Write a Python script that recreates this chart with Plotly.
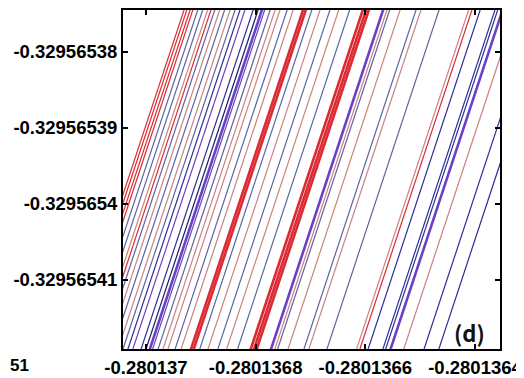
import plotly.graph_objects as go

# y levels at which each line's x position is given
y_hi = -0.32956537
y_lo = -0.32956542

# x of each line at y_hi
x_hi = [
    -0.280136910, -0.280136905, -0.280136899, -0.280136894, -0.280136885,
    -0.280136876, -0.280136867, -0.280136861, -0.280136854, -0.280136845,
    -0.280136836, -0.280136826, -0.280136817, -0.280136808, -0.280136799,
    -0.280136784, -0.280136775, -0.280136768, -0.280136763, -0.280136753,
    -0.280136744, -0.280136735, -0.280136722, -0.280136711, -0.280136693,
    -0.280136688, -0.280136677, -0.280136662, -0.280136644, -0.280136628,
    -0.280136608, -0.280136584, -0.280136578, -0.280136573, -0.280136547,
    -0.280136540, -0.280136535, -0.280136516, -0.280136487, -0.280136478,
    -0.280136445, -0.280136391, -0.280136385, -0.280136370, -0.280136343,
    -0.280136338, -0.280136329, -0.280136305, -0.280136268, -0.280136241,
]
# x of each line at y_lo
x_lo = [
    -0.280137139, -0.280137134, -0.280137128, -0.280137123, -0.280137114,
    -0.280137105, -0.280137096, -0.280137090, -0.280137083, -0.280137074,
    -0.280137065, -0.280137055, -0.280137046, -0.280137037, -0.280137028,
    -0.280137013, -0.280137004, -0.280136997, -0.280136992, -0.280136982,
    -0.280136973, -0.280136964, -0.280136951, -0.280136940, -0.280136922,
    -0.280136917, -0.280136906, -0.280136891, -0.280136873, -0.280136857,
    -0.280136837, -0.280136813, -0.280136807, -0.280136802, -0.280136776,
    -0.280136769, -0.280136764, -0.280136745, -0.280136716, -0.280136707,
    -0.280136674, -0.280136620, -0.280136614, -0.280136599, -0.280136572,
    -0.280136567, -0.280136558, -0.280136534, -0.280136497, -0.280136470,
]
line_kind = [
    "r", "r", "r", "r", "s", "s", "p", "r", "s", "p",
    "s", "p", "s", "b", "v", "b", "n", "v", "v", "s",
    "p", "p", "s", "p", "r", "r", "s", "p", "s", "p",
    "s", "r", "r", "r", "v", "p", "s", "p", "s", "p",
    "s", "p", "r", "b", "b", "b", "v", "p", "b", "b",
]
thick = [0, 0, 0, 0, 0, 0, 0, 0, 0, 0, 0, 0, 0, 0, 0, 0, 0, 1, 0, 0, 0, 0, 0, 0,
         1, 1, 0, 0, 0, 0, 0, 1, 1, 1, 1, 0, 0, 0, 0, 0, 0, 0, 0, 0, 0, 0, 1, 0, 0, 0]

x_tickvals = [-0.280137, -0.2801368, -0.2801366, -0.2801364]
x_ticktext = ["-0.280137", "-0.2801368", "-0.2801366", "-0.2801364"]
y_tickvals = [-0.32956541, -0.3295654, -0.32956539, -0.32956538]
y_ticktext = ["-0.32956541", "-0.3295654", "-0.32956539", "-0.32956538"]

x_range = [-0.2801370419, -0.2801363544]
y_range = [-0.3295654191, -0.3295653745]

palette = {
    "r": "#dc2a32",
    "p": "#c9827f",
    "s": "#5a64a2",
    "b": "#2c2f95",
    "n": "#1b1b62",
    "v": "#6a40c4",
}

fig = go.Figure()
for i in range(len(x_hi)):
    fig.add_trace(go.Scatter(
        x=[x_lo[i], x_hi[i]], y=[y_lo, y_hi], mode="lines",
        line=dict(color=palette[line_kind[i]], width=2.6 if thick[i] else 1.2),
        showlegend=False, hoverinfo="skip",
    ))

axis_common = dict(
    showgrid=False, zeroline=False, showline=True, linewidth=2, linecolor="black",
    mirror="ticks", ticks="inside", ticklen=5, tickwidth=2, tickcolor="black",
    tickfont=dict(family="Liberation Sans", size=18.5, color="black", weight="bold"),
    tickmode="array", automargin=False,
)
fig.update_xaxes(range=x_range, tickvals=x_tickvals, ticktext=x_ticktext,
                 ticklabelstandoff=1, **axis_common)
fig.update_yaxes(range=y_range, tickvals=y_tickvals, ticktext=y_ticktext, **axis_common)

fig.add_annotation(text="(d)", xref="paper", yref="paper", x=0.92, y=0.05,
                   xanchor="center", yanchor="middle", showarrow=False,
                   font=dict(family="Noto Sans CJK SC", size=22, color="#111", weight="bold"))
fig.add_annotation(text="<b>51</b>", xref="paper", yref="paper", x=-0.305, y=-0.048,
                   xanchor="left", yanchor="middle", showarrow=False,
                   font=dict(family="Liberation Sans", size=17, color="black"))

# page body has an 8px default margin, so the figure is sized/placed to compensate
fig.update_layout(
    width=516, height=370, margin=dict(l=115, r=24, t=2, b=29, autoexpand=False),
    paper_bgcolor="white", plot_bgcolor="white",
)
fig.write_html("out.html")
